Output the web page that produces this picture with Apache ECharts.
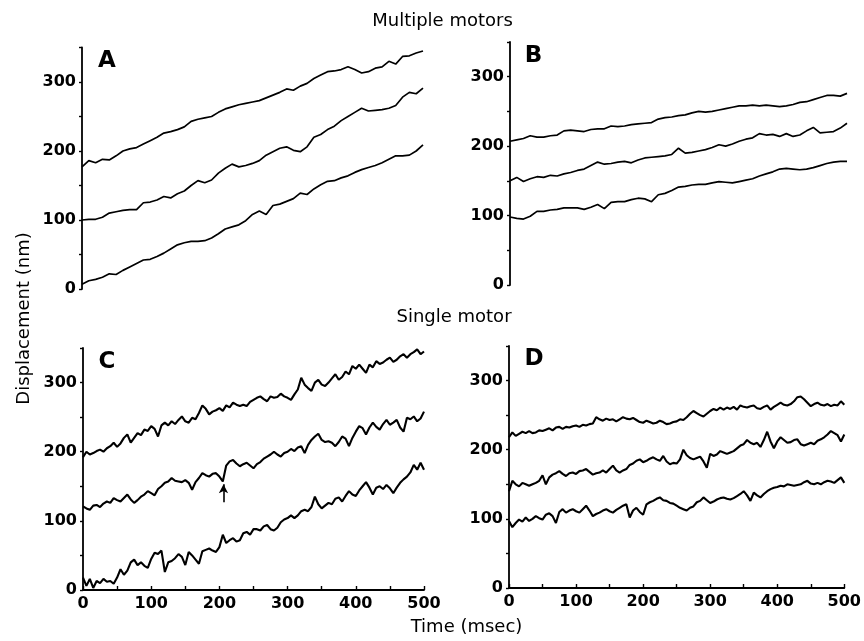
<!DOCTYPE html>
<html>
<head>
<meta charset="utf-8">
<script src="https://cdn.jsdelivr.net/npm/echarts@6/dist/echarts.min.js"></script>
<style>html,body{margin:0;padding:0;background:#fff;}#c{width:864px;height:641px;}</style>
</head>
<body>
<div id="c"></div>
<script>
// Sample times (msec)
const time10 = [0,10,20,30,40,50,60,70,80,90,100,110,120,130,140,150,160,170,180,190,200,210,220,230,240,250,260,270,280,290,300,310,320,330,340,350,360,370,380,390,400,410,420,430,440,450,460,470,480,490,500];
const time5 = [0,5,10,15,20,25,30,35,40,45,50,55,60,65,70,75,80,85,90,95,100,105,110,115,120,125,130,135,140,145,150,155,160,165,170,175,180,185,190,195,200,205,210,215,220,225,230,235,240,245,250,255,260,265,270,275,280,285,290,295,300,305,310,315,320,325,330,335,340,345,350,355,360,365,370,375,380,385,390,395,400,405,410,415,420,425,430,435,440,445,450,455,460,465,470,475,480,485,490,495,500];

// Panel A (multiple motors), displacement in nm
const aTop = [177,186,183,188,187,193,200,203,205,210, 215,220,226,228,231,235,243,246,248,250, 256,261,264,267,269,271,273,277,281,285, 290,288,294,298,305,310,315,316,318,322, 318,313,315,320,322,330,326,337,338,342, 345];
const aMid = [100,101,101,104,110,112,114,115,115,125, 126,129,134,132,138,142,150,157,154,158, 168,175,181,177,179,182,186,194,199,204, 206,201,199,206,220,224,231,236,244,250, 256,262,258,259,260,262,266,278,285,283, 291];
const aLow = [7,12,14,17,22,21,27,32,37,42, 43,47,52,58,64,67,69,69,70,74, 80,87,90,93,99,108,113,108,121,123, 127,131,139,137,145,151,156,157,161,164, 169,173,176,179,183,188,193,193,194,200, 209];

// Panel B (multiple motors)
const bTop = [207,209,211,215,213,213,215,216,222,223, 222,221,224,225,225,229,228,229,231,232, 233,234,239,241,242,244,245,248,250,249, 250,252,254,256,258,258,259,258,259,258, 257,258,260,263,264,267,270,273,273,272, 276];
const bMid = [150,155,149,153,156,155,158,157,160,162, 165,167,172,177,174,175,177,178,176,180, 183,184,185,186,188,197,190,191,193,195, 198,202,200,203,207,210,212,218,216,217, 214,218,214,216,222,227,219,220,221,226, 233];
const bLow = [98,96,95,99,106,106,108,109,111,111, 111,109,112,116,110,119,120,120,123,125, 124,120,130,132,136,141,142,144,145,145, 147,149,148,147,149,151,153,157,160,163, 167,168,167,166,167,169,172,175,177,178, 178];

// Panel C (single motor)
const cTop = [192,200,196,198,201,203,200,205,208,213, 207,212,220,225,213,220,227,224,232,230, 237,233,222,238,242,238,244,240,246,251, 244,242,249,247,256,267,262,254,258,260, 263,259,267,264,271,268,266,268,266,272, 275,278,280,276,273,280,278,279,284,280, 278,275,283,290,307,297,292,288,300,304, 297,295,300,306,312,304,308,316,312,324, 320,326,320,314,326,322,331,327,329,333, 336,330,333,338,341,336,341,344,348,341, 345];
const cMid = [121,118,116,122,123,120,125,128,126,133, 130,128,133,138,131,126,130,135,138,143, 140,137,146,150,155,157,162,158,157,156, 159,155,145,156,162,169,166,164,168,169, 164,157,180,186,188,183,179,182,184,180, 176,182,185,190,193,196,200,196,193,198, 200,204,201,206,208,198,210,217,222,226, 217,214,215,213,208,214,222,219,208,220, 229,237,234,225,235,242,236,232,240,246, 239,242,246,235,229,249,247,251,244,248, 258];
const cLow = [18,6,16,3,13,10,16,12,13,9, 18,30,22,28,40,44,36,40,35,32, 45,54,52,57,26,40,42,46,52,48, 36,55,50,44,38,56,58,60,57,55, 62,80,68,72,75,70,72,82,84,80, 88,88,86,92,94,88,86,90,98,102, 104,108,104,108,114,116,114,120,135,124, 118,122,126,124,132,134,128,136,143,138, 136,144,150,156,148,138,148,150,146,152, 147,140,148,155,160,164,170,181,174,184, 174];

// Panel D (single motor)
const dTop = [218,225,220,223,226,224,227,224,225,228, 227,229,231,228,232,233,230,233,232,234, 235,233,236,235,237,238,247,244,242,245, 243,244,241,244,247,245,244,246,243,240, 239,242,240,238,239,242,240,237,238,240, 241,244,243,247,252,256,253,250,248,252, 256,259,257,261,258,261,259,262,258,264, 262,261,263,264,260,259,262,264,258,262, 265,268,265,264,266,270,276,277,273,268, 263,266,268,265,264,266,263,265,264,270, 265];
const dMid = [140,155,150,147,152,150,148,150,152,155, 163,150,160,164,166,169,165,162,166,167, 165,169,170,172,168,164,166,167,170,167, 172,177,170,167,170,172,178,180,184,186, 182,184,187,189,186,184,191,183,179,181, 180,186,200,192,188,186,188,190,183,174, 194,191,193,198,196,194,196,198,202,206, 208,214,210,208,210,204,214,226,212,202, 212,218,214,210,211,214,215,208,206,208, 210,208,213,215,218,222,227,224,221,212, 222];
const dLow = [97,88,94,99,96,102,97,100,104,101, 99,106,108,104,94,110,114,109,112,114, 111,109,114,119,112,104,107,109,112,114, 111,109,113,116,119,121,102,112,116,110, 106,121,124,126,129,131,127,126,123,122, 119,116,114,112,116,118,124,126,131,127, 123,125,128,130,131,129,128,130,133,136, 140,134,126,138,134,131,136,140,143,145, 146,148,147,150,149,148,149,150,153,155, 151,150,152,150,153,155,154,152,156,160, 152];

// Arrow in panel C (time, from, to)
const arrowTime = 206, arrowFrom = 127, arrowTo = 153;

// Tick labels
const yTickLabels = [0,100,200,300];
const xTickLabels = [0,100,200,300,400,500];

const panelLetters = ['A','B','C','D'];
const titles = ['Multiple motors','Single motor','Displacement (nm)','Time (msec)'];

function pairs(t, v){ return t.map((x,i)=>[x, v[i]]); }

const FONT = 'DejaVu Sans';
const grids = [
  {left:82, top:47.5, width:341, height:241.5},
  {left:510, top:42, width:337, height:243},
  {left:83, top:348, width:341, height:242},
  {left:509, top:346, width:339, height:242}
];

const xAxes = grids.map((g,i)=>({
  type:'value', gridIndex:i, min:0, max:500, interval:50,
  show: i>=2,
  axisLine:{show:true, onZero:false, lineStyle:{color:'#000', width:1.8}},
  axisTick:{show:true, inside:true, length:4, lineStyle:{color:'#000', width:1.4}},
  splitLine:{show:false},
  axisLabel:{show:true, margin:6, color:'#000', fontFamily:FONT, fontWeight:'bold', fontSize:16,
    formatter: v => xTickLabels.indexOf(v) >= 0 ? String(v) : ''}
}));
const yAxes = grids.map((g,i)=>({
  type:'value', gridIndex:i, min:0, max:350, interval:50,
  axisLine:{show:true, lineStyle:{color:'#000', width:1.8}},
  axisTick:{show:true, inside:false, length:3, lineStyle:{color:'#000', width:1.4}},
  splitLine:{show:false},
  axisLabel:{show:true, margin:6, color:'#000', fontFamily:FONT, fontWeight:'bold', fontSize:16,
    formatter: v => yTickLabels.indexOf(v) >= 0 ? String(v) : ''}
}));

function line(idx, t, v, w, extra){
  return Object.assign({
    type:'line', xAxisIndex:idx, yAxisIndex:idx, data:pairs(t,v),
    showSymbol:false, symbol:'none', silent:true,
    lineStyle:{color:'#000', width:w}
  }, extra||{});
}

const series = [
  line(0,time10,aTop,1.7), line(0,time10,aMid,1.7), line(0,time10,aLow,1.7),
  line(1,time10,bTop,1.7), line(1,time10,bMid,1.7), line(1,time10,bLow,1.7),
  line(2,time5,cTop,2.1),
  line(2,time5,cMid,2.1,{markLine:{silent:true, symbol:['none','arrow'], symbolSize:[7,9],
    label:{show:false}, lineStyle:{color:'#000', width:1.6, type:'solid'},
    data:[[{coord:[arrowTime,arrowFrom]},{coord:[arrowTime,arrowTo]}]]}}),
  line(2,time5,cLow,2.1),
  line(3,time5,dTop,2.1), line(3,time5,dMid,2.1), line(3,time5,dLow,2.1)
];

function txt(s, x, y, size, weight, align, rot){
  return {type:'text', x:x, y:y, rotation:rot||0, silent:true,
    style:{text:s, fill:'#000', font: (weight||'normal')+' '+size+'px "'+FONT+'"',
      textAlign:align||'center', textVerticalAlign:'middle', align:align||'center', verticalAlign:'middle'}};
}

const graphic = [
  txt(titles[0], 442.5, 21.5, 18, 'normal'),
  txt(titles[1], 454, 317.5, 18, 'normal'),
  txt(titles[2], 24, 318.5, 18, 'normal', 'center', Math.PI/2),
  txt(titles[3], 466.5, 627, 18, 'normal'),
  txt(panelLetters[0], 107, 61.5, 23, 'bold'),
  txt(panelLetters[1], 533.5, 56, 23, 'bold'),
  txt(panelLetters[2], 107, 362.5, 23, 'bold'),
  txt(panelLetters[3], 534, 359, 23, 'bold')
];

const chart = echarts.init(document.getElementById('c'), null, {renderer:'canvas'});
chart.setOption({
  animation:false,
  backgroundColor:'#fff',
  grid:grids,
  xAxis:xAxes,
  yAxis:yAxes,
  series:series,
  graphic:graphic
});
</script>
</body>
</html>
